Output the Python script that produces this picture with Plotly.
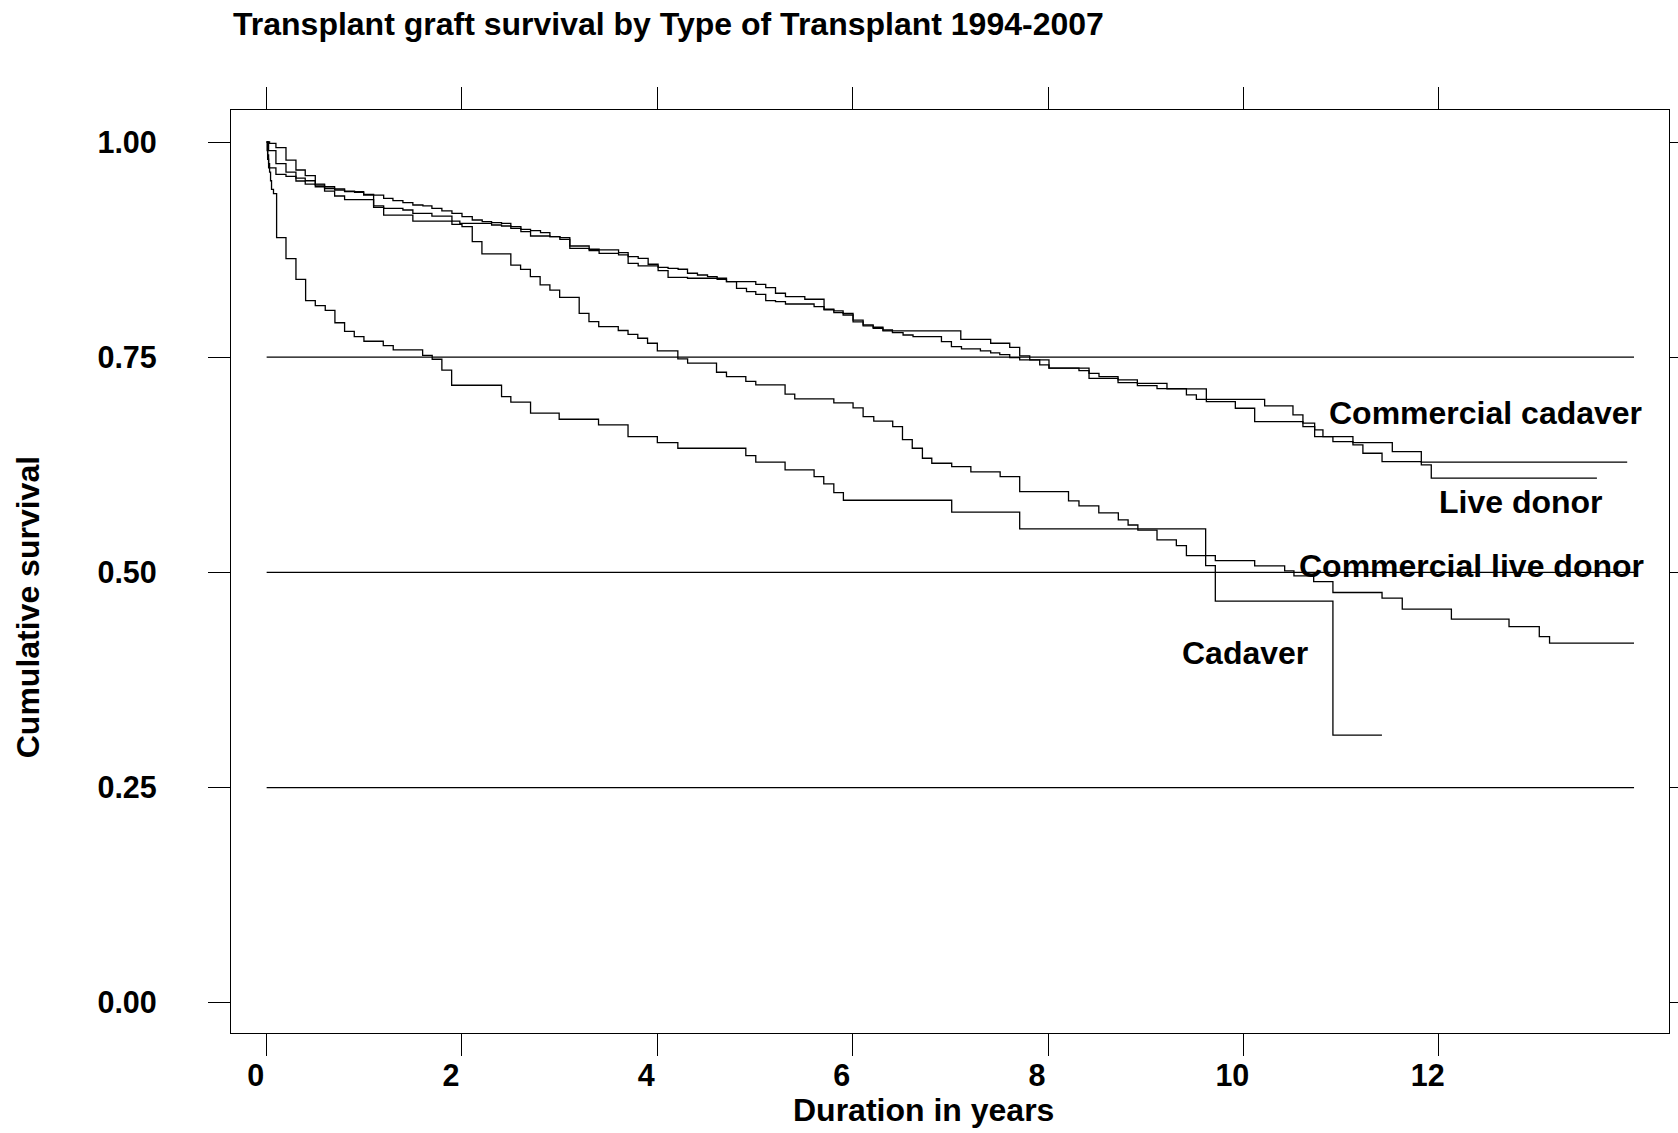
import plotly.graph_objects as go

# survival step curves (years, cumulative survival)
cc_time = [0, 0.03, 0.095, 0.198, 0.30, 0.395, 0.498, 0.593, 0.696, 0.798,
           0.90, 0.993, 1.095, 1.198, 1.293, 1.395, 1.497, 1.60, 1.692, 1.794,
           1.897, 2.0, 2.105, 2.207, 2.303, 2.405, 2.50, 2.603, 2.702, 2.804,
           2.90, 3.002, 3.104, 3.302, 3.404, 3.603, 3.701, 3.804, 3.906, 4.008,
           4.11, 4.213, 4.309, 4.411, 4.514, 4.612, 4.708, 5.008, 5.11, 5.21,
           5.312, 5.51, 5.707, 5.807, 5.902, 6.004, 6.107, 6.21, 6.31, 6.407,
           7.107, 7.413, 7.608, 7.71, 7.813, 8.01, 8.317, 8.42, 8.717, 8.915,
           9.116, 9.417, 9.519, 10.218, 10.508, 10.61, 10.73, 10.815, 11.122, 11.525,
           11.822, 13.93]
cc_surv = [1.0, 0.9985, 0.9934, 0.979, 0.9675, 0.961, 0.951, 0.948, 0.9454, 0.943,
           0.9415, 0.9392, 0.9384, 0.9346, 0.9318, 0.9295, 0.9268, 0.9257, 0.923, 0.920,
           0.917, 0.9133, 0.9094, 0.9075, 0.9063, 0.9055, 0.9017, 0.8986, 0.897, 0.8947,
           0.890, 0.8889, 0.8792, 0.8754, 0.8746, 0.8715, 0.8668, 0.8649, 0.858, 0.8544,
           0.8533, 0.8522, 0.8475, 0.8455, 0.8436, 0.8417, 0.8378, 0.8347, 0.8308, 0.8243,
           0.8204, 0.8173, 0.8057, 0.8037, 0.801, 0.793, 0.7875, 0.7848, 0.7816, 0.7805,
           0.7708, 0.7662, 0.7615, 0.7515, 0.7468, 0.7372, 0.7344, 0.7255, 0.7205, 0.717,
           0.7135, 0.7062, 0.7011, 0.6934, 0.6829, 0.6733, 0.6655, 0.6577, 0.6508, 0.6403,
           0.628, 0.628]

ld_time = [0, 0.02, 0.095, 0.198, 0.30, 0.395, 0.498, 0.593, 0.696, 0.798,
           0.993, 1.095, 1.198, 1.395, 1.497, 1.692, 1.897, 1.978, 2.303, 2.405,
           2.50, 2.603, 2.702, 2.90, 3.002, 3.104, 3.302, 3.404, 3.603, 3.701,
           3.804, 4.008, 4.11, 4.309, 4.612, 4.708, 4.811, 4.913, 5.008, 5.11,
           5.21, 5.312, 5.605, 5.707, 5.807, 5.902, 6.004, 6.107, 6.21, 6.31,
           6.407, 6.516, 6.618, 6.909, 7.011, 7.114, 7.308, 7.413, 7.506, 7.608,
           7.71, 7.915, 8.01, 8.42, 8.522, 8.717, 8.915, 9.218, 9.621, 9.918,
           10.116, 10.61, 10.73, 10.917, 11.122, 11.224, 11.42, 11.822, 11.924, 13.62]
ld_surv = [1.0, 0.99, 0.975, 0.965, 0.958, 0.955, 0.948, 0.946, 0.944, 0.9423,
           0.9384, 0.9257, 0.923, 0.921, 0.917, 0.914, 0.9082, 0.9055, 0.9036, 0.9024,
           0.8997, 0.8958, 0.8908, 0.89, 0.887, 0.8765, 0.8738, 0.8707, 0.8688, 0.8591,
           0.856, 0.8506, 0.8428, 0.8417, 0.8405, 0.8378, 0.830, 0.8262, 0.823, 0.8157,
           0.8145, 0.8118, 0.8087, 0.805, 0.8017, 0.799, 0.791, 0.7863, 0.7836, 0.7805,
           0.7785, 0.7758, 0.7739, 0.768, 0.7623, 0.7596, 0.7573, 0.755, 0.753, 0.7495,
           0.7468, 0.741, 0.7372, 0.7313, 0.7274, 0.7236, 0.7195, 0.7131, 0.6984, 0.6907,
           0.6751, 0.6694, 0.6577, 0.652, 0.6481, 0.6384, 0.6287, 0.6249, 0.6094, 0.6094]

cld_time = [0, 0.005, 0.01, 0.02, 0.095, 0.198, 0.30, 0.395, 0.498, 0.593,
            0.696, 0.798, 1.095, 1.198, 1.497, 1.897, 2.0, 2.105, 2.204, 2.50,
            2.60, 2.70, 2.80, 2.90, 3.0, 3.2, 3.30, 3.40, 3.60, 3.70,
            3.80, 3.90, 4.0, 4.21, 4.31, 4.606, 4.708, 4.906, 5.008, 5.308,
            5.407, 5.807, 6.004, 6.107, 6.216, 6.41, 6.51, 6.61, 6.714, 6.81,
            7.014, 7.21, 7.51, 7.71, 8.21, 8.317, 8.52, 8.72, 8.82, 8.92,
            9.116, 9.314, 9.417, 9.713, 10.116, 10.423, 10.518, 10.72, 10.917, 11.42,
            11.627, 12.13, 12.72, 13.03, 13.135, 14.0]
cld_surv = [1.0, 0.99, 0.98, 0.97, 0.9625, 0.960, 0.9547, 0.951, 0.950, 0.943,
            0.9373, 0.933, 0.924, 0.915, 0.9082, 0.9044, 0.9017, 0.8842, 0.870, 0.857,
            0.852, 0.8436, 0.834, 0.828, 0.8196, 0.801, 0.7913, 0.7855, 0.781, 0.7766,
            0.772, 0.7662, 0.7573, 0.748, 0.743, 0.7325, 0.7275, 0.722, 0.7178, 0.707,
            0.7015, 0.697, 0.691, 0.681, 0.6756, 0.6694, 0.6543, 0.6442, 0.6326, 0.6268,
            0.6229, 0.6167, 0.6113, 0.5939, 0.583, 0.5772, 0.569, 0.561, 0.555, 0.549,
            0.5377, 0.5311, 0.5195, 0.5137, 0.5075, 0.5017, 0.496, 0.4893, 0.4766, 0.470,
            0.4573, 0.4456, 0.437, 0.4254, 0.4178, 0.4178]

cad_time = [0, 0.01, 0.02, 0.03, 0.04, 0.05, 0.07, 0.102, 0.198, 0.30,
            0.399, 0.498, 0.60, 0.699, 0.798, 0.897, 0.996, 1.194, 1.296, 1.597,
            1.695, 1.794, 1.894, 2.405, 2.50, 2.702, 2.995, 3.398, 3.70, 4.0,
            4.21, 4.906, 5.008, 5.308, 5.605, 5.704, 5.807, 5.905, 7.014, 7.71,
            9.614, 9.713, 10.917, 11.419]
cad_surv = [1.0, 0.985, 0.975, 0.965, 0.955, 0.945, 0.94, 0.889, 0.8645, 0.8405,
            0.8157, 0.810, 0.8045, 0.790, 0.780, 0.774, 0.7685, 0.7634, 0.7584, 0.752,
            0.7476, 0.735, 0.7174, 0.7042, 0.6977, 0.6849, 0.6779, 0.6713, 0.6577, 0.6508,
            0.6442, 0.6357, 0.628, 0.619, 0.6113, 0.6028, 0.5927, 0.5838, 0.570, 0.5505,
            0.5079, 0.4665, 0.311, 0.311]

ref_levels = [0.25, 0.5, 0.75]
ref_span = [0, 14.0]

x_ticks = [0, 2, 4, 6, 8, 10, 12]
y_ticks = [0.0, 0.25, 0.5, 0.75, 1.0]
y_ticktext = ["0.00", "0.25", "0.50", "0.75", "1.00"]

FONT = "Liberation Sans, Arial, Helvetica, sans-serif"

fig = go.Figure()

for lvl in ref_levels:
    fig.add_trace(go.Scatter(x=ref_span, y=[lvl, lvl], mode="lines",
                             line=dict(color="black", width=1.2),
                             showlegend=False, hoverinfo="skip"))

curves = [("Commercial cadaver", cc_time, cc_surv),
          ("Live donor", ld_time, ld_surv),
          ("Commercial live donor", cld_time, cld_surv),
          ("Cadaver", cad_time, cad_surv)]
for name, t, s in curves:
    fig.add_trace(go.Scatter(x=t, y=s, mode="lines", name=name,
                             line=dict(color="black", width=1.3, shape="hv"),
                             showlegend=False))

# curve labels placed next to the ends of the curves
labels = [("Commercial cadaver", 12.478, 0.6853),
          ("Live donor", 12.845, 0.5822),
          ("Commercial live donor", 12.333, 0.5078),
          ("Cadaver", 10.013, 0.4061)]
for txt, lx, ly in labels:
    fig.add_annotation(x=lx, y=ly, text=txt, showarrow=False,
                       xanchor="center", yanchor="middle",
                       font=dict(family=FONT, size=32, color="black", weight=700))

fig.add_annotation(text="Duration in years", xref="paper", yref="paper",
                   x=0.4819, y=-0.0836, showarrow=False,
                   xanchor="center", yanchor="middle",
                   font=dict(family=FONT, size=32, color="black", weight=700))
fig.add_annotation(text="Cumulative survival", xref="paper", yref="paper",
                   x=-0.1412, y=0.4612, showarrow=False, textangle=-90,
                   xanchor="center", yanchor="middle",
                   font=dict(family=FONT, size=32, color="black", weight=700))

axis_style = dict(showgrid=False, zeroline=False,
                  showline=True, linecolor="black", linewidth=1.2,
                  mirror="ticks", ticks="outside", ticklen=22,
                  tickwidth=1.2, tickcolor="black",
                  tickfont=dict(family=FONT, size=30.5, color="black", weight=700))

fig.update_xaxes(range=[-0.365, 14.358], tickvals=x_ticks,
                 ticklabelshift=-11, ticklabelstandoff=-7, **axis_style)
fig.update_yaxes(range=[-0.0352, 1.0372], tickvals=y_ticks, ticktext=y_ticktext,
                 ticklabelstandoff=45, **axis_style)

fig.update_layout(
    title=dict(text="Transplant graft survival by Type of Transplant 1994-2007",
               xref="container", yref="container",
               x=233 / 1678, xanchor="left", y=1 - 24 / 1133, yanchor="middle",
               font=dict(family=FONT, size=32, color="black", weight=700)),
    width=1678, height=1133,
    margin=dict(l=231, r=9, t=110, b=100, autoexpand=False),
    plot_bgcolor="white", paper_bgcolor="white",
)

fig.write_html("out.html", config={"displayModeBar": False},
               post_script="document.body.style.margin='0';")
